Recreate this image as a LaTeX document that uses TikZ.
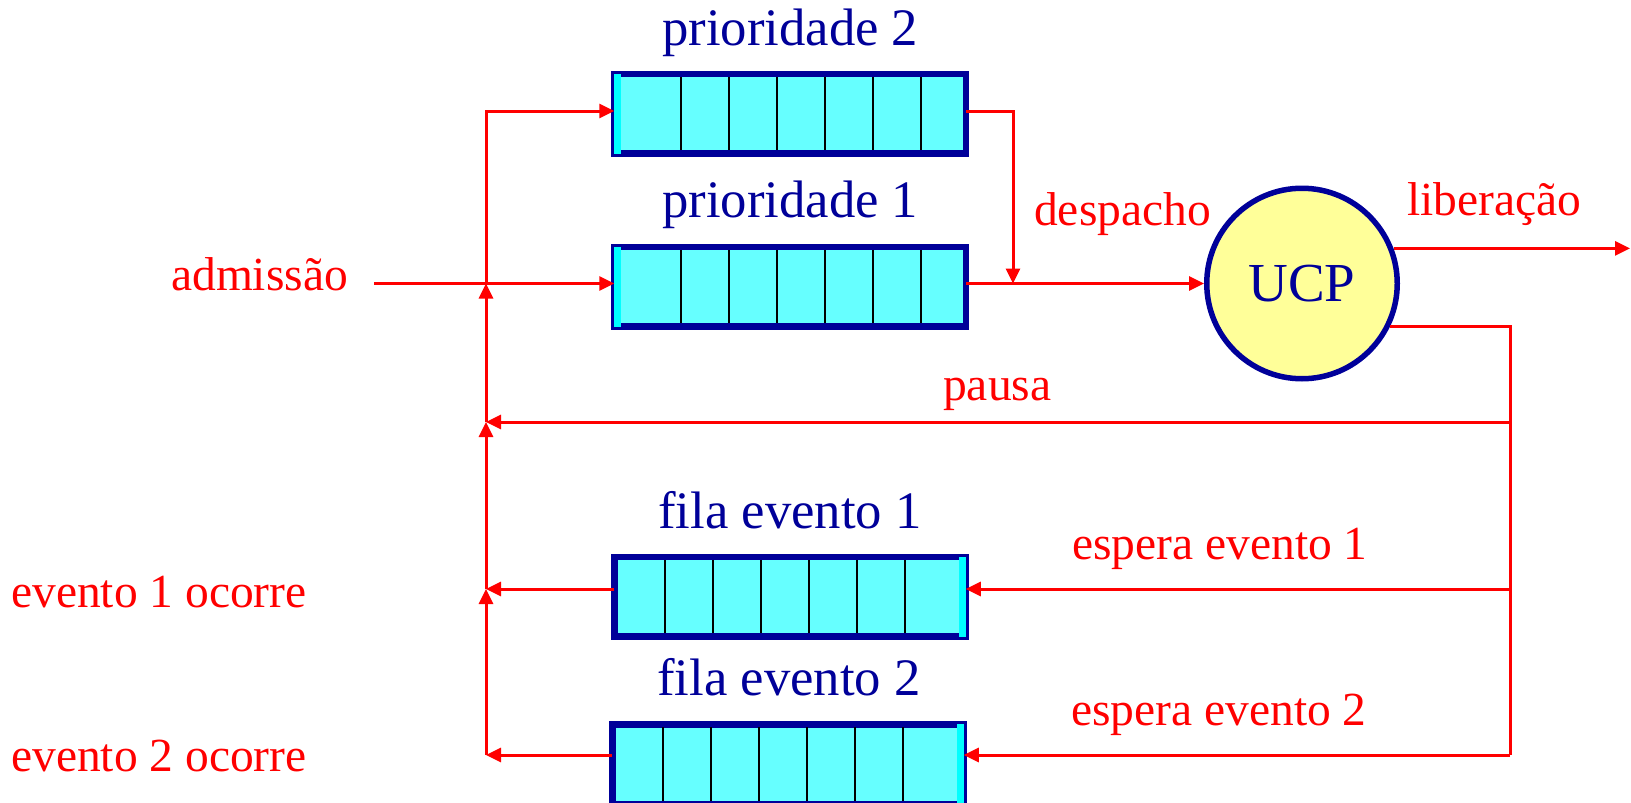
\documentclass[tikz,border=0pt]{standalone}
\usepackage{fontspec}
\setmainfont{Liberation Serif}
\usetikzlibrary{arrows.meta,calc}
\definecolor{navy}{HTML}{000099}
\definecolor{qfill}{HTML}{66FFFF}
\definecolor{qstrip}{HTML}{00FFFF}
\definecolor{ucpfill}{HTML}{FFFF99}
\definecolor{lred}{HTML}{FF0000}
\tikzset{
  queue/.style={rectangle, draw=navy, line width=6.5pt, fill=qfill, minimum width=351.5pt, minimum height=79.5pt, inner sep=0pt, outer sep=0pt},
  bluelab/.style={text=navy, font=\fontsize{52.7}{60}\selectfont, anchor=base west, inner sep=0pt},
  redlab/.style={text=lred, font=\fontsize{47.5}{55}\selectfont, anchor=base west, inner sep=0pt},
  conn/.style={draw=lred, line width=3pt},
  arr/.style={conn, -{Triangle[length=15pt,width=14pt]}},
  divider/.style={line width=2.4pt, black},
}
\begin{document}
\begin{tikzpicture}[x=1pt,y=-1pt]
\useasboundingbox (0,0) rectangle (1631,803);
\clip (0,0) rectangle (1631,803);
% queues
\node[queue] (q2) at (790,113.5) {};
\node[queue] (q1) at (790,286.5) {};
\node[queue] (e1) at (790,596.5) {};
\node[queue] (e2) at (788,764) {};
% entry strips and cell dividers
\foreach \q in {q2,q1}{
  \fill[qstrip] ($(\q.west)+(0,40)$) rectangle ($(\q.west)+(6.5,-40)$);
  \foreach \i in {0,...,5}{
    \draw[divider] ($(\q.north west)+(67+48*\i,3)$) -- ($(\q.south west)+(67+48*\i,-3)$);
  }
}
\foreach \q in {e1,e2}{
  \fill[qstrip] ($(\q.east)+(0,40)$) rectangle ($(\q.east)+(-6.5,-40)$);
  \foreach \i in {0,...,5}{
    \draw[divider] ($(\q.north west)+(51+48*\i,3)$) -- ($(\q.south west)+(51+48*\i,-3)$);
  }
}
% CPU
\node[circle, draw=navy, line width=5.5pt, fill=ucpfill, minimum size=190.5pt, inner sep=0pt, outer sep=2.75pt,
      text=navy, font=\fontsize{55}{60}\selectfont] (ucp) at (1302,283.5) {UCP};
% labels
\node[bluelab] (lp2) at (662,45) {prioridade 2};
\node[bluelab] (lp1) at (662,217) {prioridade 1};
\node[bluelab] (le1) at (658,528) {fila evento 1};
\node[bluelab] (le2) at (657,695) {fila evento 2};
\node[redlab] (ladm) at (171,290) {admissão};
\node[redlab] (ldesp) at (1034,225) {despacho};
\node[redlab] (llib) at (1407,215) {liberação};
\node[redlab] (lpausa) at (943,400) {pausa};
\node[redlab] (lesp1) at (1072,559) {espera evento 1};
\node[redlab] (lesp2) at (1071,725) {espera evento 2};
\node[redlab] (locc1) at (11,607) {evento 1 ocorre};
\node[redlab] (locc2) at (11,771) {evento 2 ocorre};
% coordinates
\coordinate (admstart) at (374,283.5);
\coordinate (jtop) at (486,111);
\coordinate (jadm) at (486,283.5);
\coordinate (jpausa) at (486,422);
\coordinate (jev1) at (486,589);
\coordinate (jev2) at (486,755);
\coordinate (rtop) at (1510,327);
\coordinate (rpausa) at (1510,422);
\coordinate (rev1) at (1510,589);
\coordinate (rev2) at (1510,755);
\coordinate (desp) at (1013,283.5);
\coordinate (libend) at (1630,247);
% connectors
\draw[arr] (admstart) -- (q1.west |- admstart);
\draw[arr] (jadm) |- (q2.west |- jtop);
\draw[arr] (jpausa) -- (jadm);
\draw[arr] (jev1) -- (jpausa);
\draw[arr] (jev2) -- (jev1);
\draw[arr] (q1.east |- ucp) -- (ucp.west);
\draw[arr] (q2.east |- jtop) -| (desp);
\draw[arr] (ucp.21.6) -- (ucp.21.6 -| libend);
\draw[conn] (ucp.-26.7) -| (rev2);
\draw[arr] (rpausa) -- (jpausa);
\draw[arr] (rev1) -- (e1.east |- rev1);
\draw[arr] (e1.west |- rev1) -- (jev1);
\draw[arr] (rev2) -- (e2.east |- rev2);
\draw[arr] (e2.west |- rev2) -- (jev2);
\end{tikzpicture}
\end{document}
